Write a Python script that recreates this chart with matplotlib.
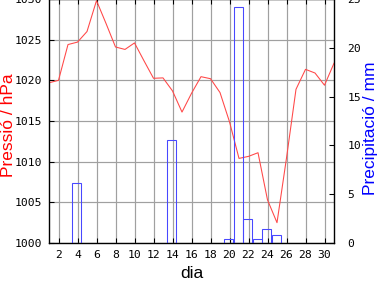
"""Pressió i precipitació diària."""

import matplotlib
matplotlib.use("Agg")
import matplotlib.pyplot as plt
import numpy as np

# Dades llegides del gràfic
dies = np.arange(1, 32)
pressio = [
    1019.7, 1020.0, 1024.4, 1024.7, 1026.0, 1029.8, 1027.0, 1024.1, 1023.8, 1024.6,
    1022.4, 1020.25, 1020.3, 1018.7, 1016.1, 1018.4, 1020.45, 1020.2, 1018.5, 1014.9,
    1010.4, 1010.65, 1011.1, 1005.3, 1002.5, 1010.45, 1018.9, 1021.35, 1020.9, 1019.4,
    1022.1,
]
dies_pluja = [4, 14, 20, 21, 22, 23, 24, 25]
pluja = [6.1, 10.6, 0.4, 24.2, 2.5, 0.4, 1.4, 0.8]

x_ticks = list(range(2, 31, 2))
p_ticks = list(range(1000, 1031, 5))
mm_ticks = list(range(0, 26, 5))

TICK_FONT = "DejaVu Sans Mono"
LABEL_FONT = "Liberation Sans"
GRID_COLOR = "#a0a0a0"
RED_LINE = "#ff4848"
BLUE_LINE = "#4848ff"

fig = plt.figure(figsize=(4, 3), dpi=96)
ax = fig.add_axes([49 / 384, 45 / 288, 285 / 384, 244 / 288])
ax2 = ax.twinx()

# Pressió
ax.plot(dies, pressio, color=RED_LINE, linewidth=0.8, zorder=3)
ax.set_xlim(1, 31)
ax.set_ylim(1000, 1030)
ax.set_xticks(x_ticks)
ax.set_yticks(p_ticks)
ax.grid(True, color=GRID_COLOR, linewidth=0.9)
ax.set_axisbelow(True)

# Precipitació
ax2.bar(np.array(dies_pluja) - 0.08, pluja, width=0.97, fill=False,
        edgecolor=BLUE_LINE, linewidth=0.8)
ax2.set_ylim(0, 25)
ax2.set_yticks(mm_ticks)

ax.tick_params(axis="x", direction="in", top=True, length=4, width=0.8, pad=5,
               labelsize=8.5)
ax.tick_params(axis="y", direction="in", length=4, width=0.8, pad=5, labelsize=8.5)
ax2.tick_params(axis="y", direction="in", length=4, width=0.8, pad=10, labelsize=8.5)

for lab in ax.get_xticklabels() + ax.get_yticklabels() + ax2.get_yticklabels():
    lab.set_fontfamily(TICK_FONT)

for a in (ax, ax2):
    for sp in a.spines.values():
        sp.set_linewidth(0.9)

ax.set_xlabel("dia", fontsize=13, family=LABEL_FONT, va="baseline")
ax.xaxis.set_label_coords(0.5, -0.142)
ax.set_ylabel("Pressió / hPa", fontsize=13, family=LABEL_FONT, color="red",
              va="baseline")
ax.yaxis.set_label_coords(-0.126, 0.481)
ax2.set_ylabel("Precipitació / mm", fontsize=13, family=LABEL_FONT, color="blue",
               va="baseline")
ax2.yaxis.set_label_coords(1.144, 0.471)

fig.savefig("out.png", dpi=96)
